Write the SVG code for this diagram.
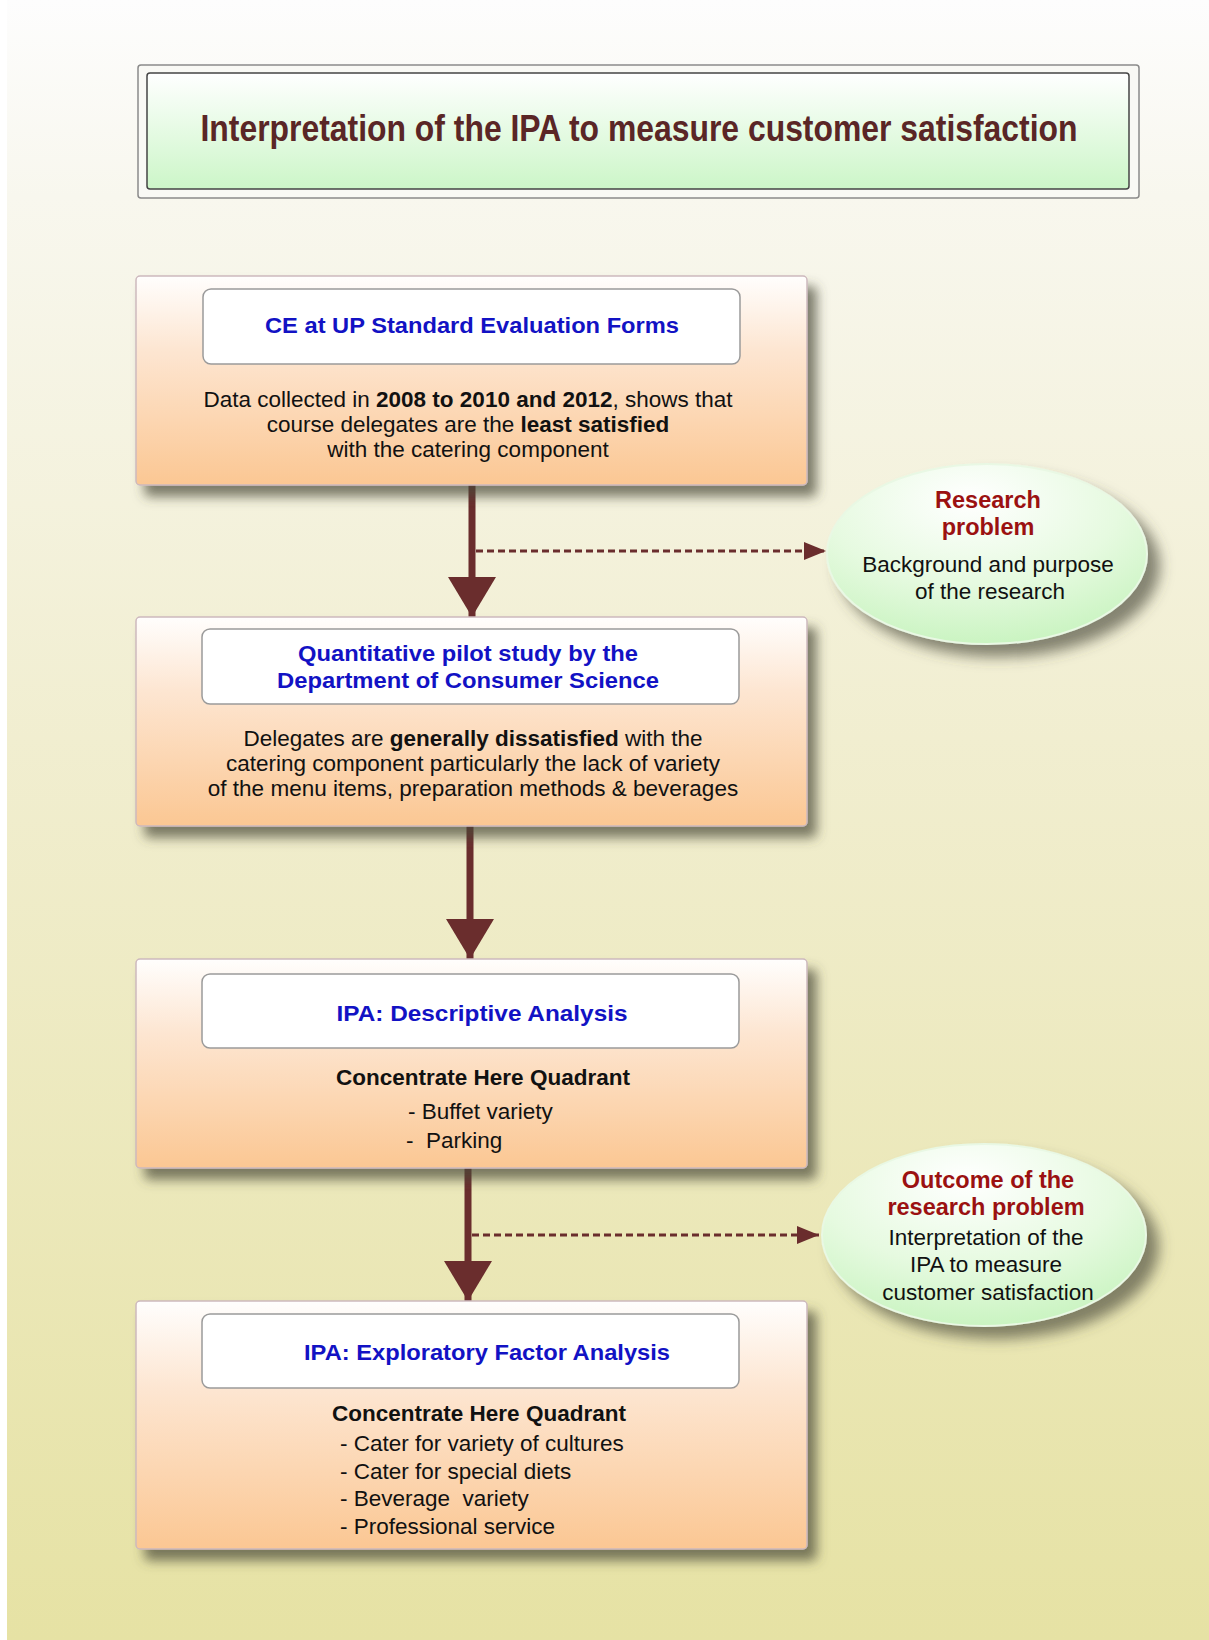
<svg xmlns="http://www.w3.org/2000/svg" width="1209" height="1640" viewBox="0 0 1209 1640">
  <defs>
    <linearGradient id="bg" x1="0" y1="0" x2="0" y2="1">
      <stop offset="0" stop-color="#fdfdfd"/>
      <stop offset="0.12" stop-color="#f8f7ee"/>
      <stop offset="0.45" stop-color="#f1eed0"/>
      <stop offset="1" stop-color="#e6e2a4"/>
    </linearGradient>
    <linearGradient id="titleFill" x1="0" y1="0" x2="0" y2="1">
      <stop offset="0" stop-color="#ffffff"/>
      <stop offset="1" stop-color="#ccf6c8"/>
    </linearGradient>
    <linearGradient id="boxFill" x1="0" y1="0" x2="0" y2="1">
      <stop offset="0" stop-color="#fffefd"/>
      <stop offset="0.35" stop-color="#fde6d2"/>
      <stop offset="1" stop-color="#fbc793"/>
    </linearGradient>
    <radialGradient id="ovalFill" cx="0.45" cy="0.2" r="0.85">
      <stop offset="0" stop-color="#ffffff"/>
      <stop offset="0.55" stop-color="#e6fae0"/>
      <stop offset="1" stop-color="#c6f3bd"/>
    </radialGradient>
    <filter id="shadow" x="-10%" y="-10%" width="130%" height="140%">
      <feDropShadow dx="9" dy="11" stdDeviation="6" flood-color="#4a4a38" flood-opacity="0.7"/>
    </filter>
    <filter id="ovalShadow" x="-15%" y="-15%" width="140%" height="150%">
      <feDropShadow dx="12" dy="12" stdDeviation="7" flood-color="#4a4a38" flood-opacity="0.65"/>
    </filter>
    <marker id="bigHead" viewBox="0 0 40 48" refX="40" refY="24" markerWidth="40" markerHeight="48" markerUnits="userSpaceOnUse" orient="auto">
      <path d="M0,0 L40,24 L0,48 Z" fill="#6a2d2d"/>
    </marker>
    <marker id="smallHead" viewBox="0 0 22 18" refX="22" refY="9" markerWidth="22" markerHeight="18" markerUnits="userSpaceOnUse" orient="auto">
      <path d="M0,0 L22,9 L0,18 Z" fill="#6a2d2d"/>
    </marker>
    <style>
      text { font-family: "Liberation Sans", Arial, sans-serif; }
      .box { fill: url(#boxFill); stroke: #cdb9bd; stroke-width: 1.5; filter: url(#shadow); }
      .inner { fill: #ffffff; stroke: #9a9a9a; stroke-width: 1.5; }
      .head { font-size: 22px; font-weight: bold; fill: #1212c4; text-anchor: middle; }
      .body { font-size: 22.5px; fill: #111111; text-anchor: middle; }
      .list { font-size: 22.5px; fill: #111111; white-space: pre; }
      .b { font-weight: bold; }
      .oval { fill: url(#ovalFill); stroke: #e9f8e4; stroke-width: 2; filter: url(#ovalShadow); }
      .ovalHead { font-size: 23.5px; font-weight: bold; fill: #9b1111; text-anchor: middle; }
      .ovalBody { font-size: 22.5px; fill: #111111; text-anchor: middle; }
      .main { stroke: #6a2d2d; stroke-width: 7; fill: none; }
      .dash { stroke: #6a2d2d; stroke-width: 3; stroke-dasharray: 7 4; fill: none; }
    </style>
  </defs>

  <!-- page background -->
  <rect x="0" y="0" width="1209" height="1640" fill="url(#bg)"/>
  <rect x="0" y="0" width="7" height="1640" fill="#ffffff"/>

  <!-- title banner -->
  <g id="title">
    <rect x="138" y="65" width="1001" height="133" rx="3" fill="#f9f9f5" stroke="#8a8a8a" stroke-width="1.5"/>
    <rect x="147" y="73" width="982" height="116" rx="3" fill="url(#titleFill)" stroke="#444444" stroke-width="1.5"/>
    <text x="639" y="141" font-size="36" font-weight="bold" fill="#5a2626" text-anchor="middle" textLength="877" lengthAdjust="spacingAndGlyphs">Interpretation of the IPA to measure customer satisfaction</text>
  </g>

  <!-- connectors -->
  <g id="connectors">
    <line class="main" x1="472" y1="485" x2="472" y2="617" marker-end="url(#bigHead)"/>
    <line class="dash" x1="476" y1="551" x2="826" y2="551" marker-end="url(#smallHead)"/>
    <line class="main" x1="470" y1="826" x2="470" y2="959" marker-end="url(#bigHead)"/>
    <line class="main" x1="468" y1="1168" x2="468" y2="1301" marker-end="url(#bigHead)"/>
    <line class="dash" x1="472" y1="1235" x2="819" y2="1235" marker-end="url(#smallHead)"/>
  </g>

  <!-- step 1 -->
  <g id="node-evaluation-forms">
    <rect class="box" x="136" y="276" width="671" height="209" rx="4"/>
    <rect class="inner" x="203" y="289" width="537" height="75" rx="8"/>
    <text class="head" x="472" y="333" textLength="414" lengthAdjust="spacingAndGlyphs">CE at UP Standard Evaluation Forms</text>
    <text class="body" x="468" y="407">Data collected in <tspan class="b">2008 to 2010 and 2012</tspan>, shows that</text>
    <text class="body" x="468" y="432">course delegates are the <tspan class="b">least satisfied</tspan></text>
    <text class="body" x="468" y="457">with the catering component</text>
  </g>

  <!-- step 2 -->
  <g id="node-pilot-study">
    <rect class="box" x="136" y="617" width="671" height="209" rx="4"/>
    <rect class="inner" x="202" y="629" width="537" height="75" rx="8"/>
    <text class="head" x="468" y="661" textLength="340" lengthAdjust="spacingAndGlyphs">Quantitative pilot study by the</text>
    <text class="head" x="468" y="688" textLength="382" lengthAdjust="spacingAndGlyphs">Department of Consumer Science</text>
    <text class="body" x="473" y="746">Delegates are <tspan class="b">generally dissatisfied</tspan> with the</text>
    <text class="body" x="473" y="771">catering component particularly the lack of variety</text>
    <text class="body" x="473" y="796">of the menu items, preparation methods &amp; beverages</text>
  </g>

  <!-- step 3 -->
  <g id="node-descriptive">
    <rect class="box" x="136" y="959" width="671" height="209" rx="4"/>
    <rect class="inner" x="202" y="974" width="537" height="74" rx="8"/>
    <text class="head" x="482" y="1021" textLength="291" lengthAdjust="spacingAndGlyphs">IPA: Descriptive Analysis</text>
    <text class="body b" x="483" y="1085">Concentrate Here Quadrant</text>
    <text class="list" x="408" y="1119">- Buffet variety</text>
    <text class="list" x="406" y="1148">-  Parking</text>
  </g>

  <!-- step 4 -->
  <g id="node-factor-analysis">
    <rect class="box" x="136" y="1301" width="671" height="248" rx="4"/>
    <rect class="inner" x="202" y="1314" width="537" height="74" rx="8"/>
    <text class="head" x="487" y="1360" textLength="366" lengthAdjust="spacingAndGlyphs">IPA: Exploratory Factor Analysis</text>
    <text class="body b" x="479" y="1421">Concentrate Here Quadrant</text>
    <text class="list" x="340" y="1451">- Cater for variety of cultures</text>
    <text class="list" x="340" y="1479">- Cater for special diets</text>
    <text class="list" x="340" y="1506">- Beverage  variety</text>
    <text class="list" x="340" y="1534">- Professional service</text>
  </g>

  <!-- side note: research problem -->
  <g id="node-research-problem">
    <ellipse class="oval" cx="987" cy="554" rx="160" ry="90"/>
    <text class="ovalHead" x="988" y="508">Research</text>
    <text class="ovalHead" x="988" y="535">problem</text>
    <text class="ovalBody" x="988" y="572">Background and purpose</text>
    <text class="ovalBody" x="990" y="599">of the research</text>
  </g>

  <!-- side note: outcome -->
  <g id="node-outcome">
    <ellipse class="oval" cx="984" cy="1235" rx="162" ry="91"/>
    <text class="ovalHead" x="988" y="1188">Outcome of the</text>
    <text class="ovalHead" x="986" y="1215">research problem</text>
    <text class="ovalBody" x="986" y="1245">Interpretation of the</text>
    <text class="ovalBody" x="986" y="1272">IPA to measure</text>
    <text class="ovalBody" x="988" y="1300">customer satisfaction</text>
  </g>
</svg>
